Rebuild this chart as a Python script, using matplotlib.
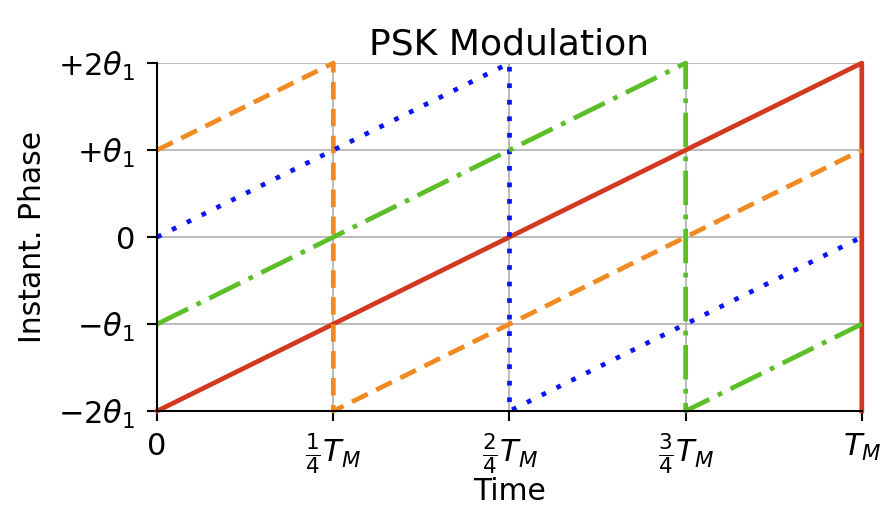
import matplotlib
matplotlib.use("Agg")
import matplotlib.pyplot as plt

# breakpoints of the wrapped phase, x in units of T_M, y in units of theta_1
red_x = [0, 1, 1]
red_y = [-2, 2, -2]
orange_x = [0, 0.25, 0.25, 1]
orange_y = [1, 2, -2, 1]
blue_x = [0, 0.5, 0.5, 1]
blue_y = [0, 2, -2, 0]
green_x = [0, 0.75, 0.75, 1]
green_y = [-1, 2, -2, -1]

x_ticks = [0, 0.25, 0.5, 0.75, 1]
x_labels = ['0', r'$\frac{1}{4}T_M$', r'$\frac{2}{4}T_M$', r'$\frac{3}{4}T_M$', r'$T_M$']
y_ticks = [-2, -1, 0, 1, 2]
y_labels = [r'$-2\theta_1$', r'$-\theta_1$', '0', r'$+\theta_1$', r'$+2\theta_1$']

fig = plt.figure(figsize=(8.83, 5.17), dpi=100)
ax = fig.add_axes([0.178, 0.205, 0.798, 0.673])

lw = 3.4
ax.plot(red_x, red_y, color='#d2391f', lw=lw, clip_on=False)
ax.plot(orange_x, orange_y, color='#f28a22', lw=lw, linestyle=(0, (3.7, 2.0)),
        clip_on=False)
ax.plot(blue_x, blue_y, color='#0a14f5', lw=lw, linestyle=(0, (1.0, 2.5)),
        clip_on=False)
ax.plot(green_x, green_y, color='#5cbf27', lw=lw, linestyle=(0, (7.3, 2.0, 1.0, 2.0)),
        clip_on=False)

ax.set_xlim(0, 1)
ax.set_ylim(-2, 2)
ax.set_xticks(x_ticks)
ax.set_xticklabels(x_labels)
ax.set_yticks(y_ticks)
ax.set_yticklabels(y_labels)
ax.grid(True, color='#b0b0b0', lw=1.2)
ax.set_axisbelow(True)
for side in ['top', 'right']:
    ax.spines[side].set_visible(False)
for side in ['left', 'bottom']:
    ax.spines[side].set_linewidth(1.5)
ax.tick_params(labelsize=22, width=1.5, length=7)
ax.tick_params(axis='y', pad=9)
ax.tick_params(axis='x', pad=8)

ax.set_title('PSK Modulation', fontsize=26)
ax.set_xlabel('Time', fontsize=21.5, labelpad=0)
ax.set_ylabel('Instant. Phase', fontsize=21.5, labelpad=8)

fig.savefig('out.png', dpi=100)
